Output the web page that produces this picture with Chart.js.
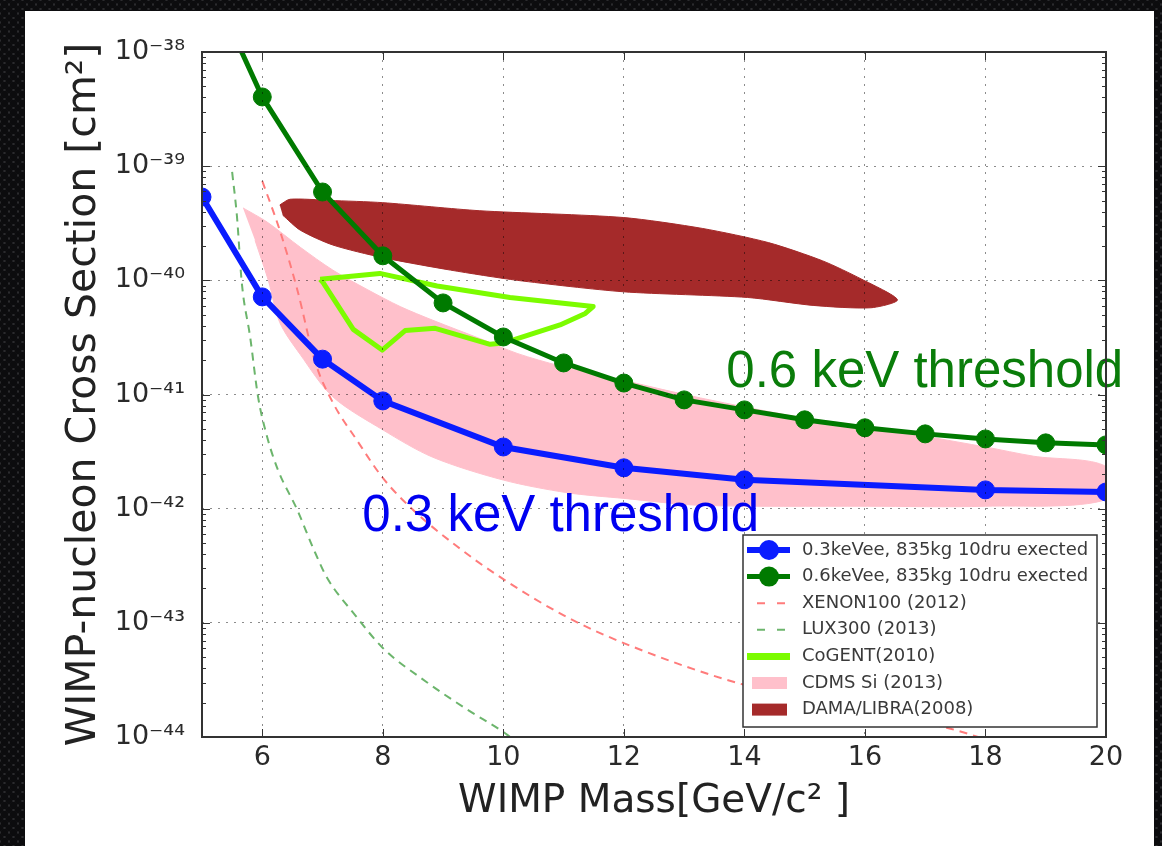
<!DOCTYPE html>
<html>
<head>
<meta charset="utf-8">
<script src="https://cdn.jsdelivr.net/npm/chart.js@4.4.1/dist/chart.umd.min.js"></script>
<style>
html, body { margin: 0; padding: 0; }
body {
    width: 1162px; height: 846px; overflow: hidden; position: relative;
    background-color: #3a3a3e;
    background-image: radial-gradient(circle, #0c0c0e 3.2px, rgba(0,0,0,0) 4.2px),
                      radial-gradient(circle, #0c0c0e 3.2px, rgba(0,0,0,0) 4.2px);
    background-size: 9px 9px;
    background-position: 0 0, 4.5px 4.5px;
}
#panel { position: absolute; left: 25px; top: 11px; width: 1129px; height: 835px; background: #fff; }
#c { position: absolute; left: 0; top: 0; }
</style>
</head>
<body>
<div id="panel"></div>
<canvas id="c" width="1162" height="846"></canvas>
<script>
// axis ticks
const xTicks = [6, 8, 10, 12, 14, 16, 18, 20];
const yTickValues = [1e-44, 1e-43, 1e-42, 1e-41, 1e-40, 1e-39, 1e-38];
const yTickLabels = ['10⁻⁴⁴', '10⁻⁴³', '10⁻⁴²', '10⁻⁴¹', '10⁻⁴⁰', '10⁻³⁹', '10⁻³⁸'];

// 0.3 keVee expected sensitivity
const massBlue  = [5, 6, 7, 8, 10, 12, 14, 18, 20];
const sigmaBlue = [5.37e-40, 7.16e-41, 2.04e-41, 8.79e-42, 3.47e-42, 2.28e-42, 1.79e-42, 1.46e-42, 1.40e-42];

// 0.6 keVee expected sensitivity
const massGreen  = [5, 6, 7, 8, 9, 10, 11, 12, 13, 14, 15, 16, 17, 18, 19, 20];
const sigmaGreen = [5.75e-38, 4.04e-39, 5.94e-40, 1.64e-40, 6.34e-41, 3.19e-41, 1.89e-41, 1.26e-41,
                    8.97e-42, 7.33e-42, 6.00e-42, 5.11e-42, 4.52e-42, 4.08e-42, 3.77e-42, 3.62e-42];

// XENON100 (2012)
const massXenon  = [6.0, 6.29, 6.58, 6.88, 7.17, 7.57, 8.0, 8.5, 9.23, 9.95, 11.06, 12.15, 13.98, 16.0, 17.37, 18.3];
const sigmaXenon = [7.41e-40, 2.75e-40, 8.32e-41, 1.91e-41, 8.51e-42, 3.98e-42, 1.86e-42, 9.77e-43,
                    4.68e-43, 2.51e-43, 1.12e-43, 6.17e-44, 2.88e-44, 1.70e-44, 1.20e-44, 8.5e-45];

// LUX300 (2013)
const massLux  = [5.50, 5.58, 5.66, 5.80, 5.93, 6.08, 6.26, 6.58, 6.84, 7.07, 7.54, 8.0, 8.73, 9.40, 10.06, 10.3];
const sigmaLux = [8.91e-40, 3.63e-40, 9.55e-41, 3.16e-41, 9.55e-42, 4.27e-42, 2.19e-42, 9.77e-43,
                  4.57e-43, 2.51e-43, 1.17e-43, 6.03e-44, 3.02e-44, 1.74e-44, 1.05e-44, 8.3e-45];

// CoGENT (2010) contour
const massCogent  = [6.96, 7.95, 8.90, 10.11, 11.49, 11.36, 10.94, 10.0, 9.78, 8.87, 8.37, 7.99, 7.51, 7.01, 6.96];
const sigmaCogent = [1.02e-40, 1.15e-40, 8.91e-41, 7.08e-41, 5.89e-41, 5.13e-41, 4.07e-41, 2.82e-41,
                     2.75e-41, 3.80e-41, 3.63e-41, 2.45e-41, 3.72e-41, 9.55e-41, 1.02e-40];

// CDMS Si (2013) region outline
const massCdms  = [5.68, 6.08, 6.63, 7.17, 7.74, 8.29, 8.83, 9.66, 10.23, 10.94, 11.94, 13.27, 14.93, 16.04, 18.0, 18.8, 20.0,
                   20.0, 18.0, 16.04, 13.27, 12.0, 11.06, 10.0, 8.83, 8.0, 7.17, 6.63, 6.29, 6.10, 5.88];
const sigmaCdms = [4.31e-40, 3.24e-40, 1.95e-40, 1.23e-40, 8.32e-41, 5.89e-41, 4.47e-41, 3.02e-41, 2.29e-41, 1.78e-41,
                   1.35e-41, 9.33e-42, 6.31e-42, 5.25e-42, 3.47e-42, 2.88e-42, 2.34e-42,
                   1.20e-42, 1.05e-42, 1.05e-42, 1.07e-42, 1.23e-42, 1.38e-42, 1.78e-42, 2.82e-42, 4.90e-42,
                   9.55e-42, 2.24e-41, 4.27e-41, 1.0e-40, 2.24e-40];

// DAMA/LIBRA (2008) region outline
const massDama  = [6.29, 6.46, 7.12, 8.0, 9.61, 11.99, 13.3, 14.4, 15.3, 15.95, 16.54,
                   16.1, 15.14, 14.05, 11.99, 10.23, 9.12, 8.0, 7.17, 6.63, 6.34];
const sigmaDama = [4.57e-40, 5.13e-40, 5.01e-40, 4.79e-40, 4.07e-40, 3.55e-40, 2.85e-40, 2.14e-40, 1.48e-40, 1.02e-40, 6.76e-41,
                   5.75e-41, 6.03e-41, 7.08e-41, 7.94e-41, 1.0e-40, 1.23e-40, 1.58e-40, 2.04e-40, 2.75e-40, 3.72e-40];

// text put on the plot, in data coordinates
const notes = [
    {text: '0.6 keV threshold', x: 13.7, y: 1.16e-41, color: '#0a7d0a'},
    {text: '0.3 keV threshold', x: 7.66, y: 6.38e-43, color: '#0000f0'}
];

const FONT = "'DejaVu Sans', sans-serif";

function pts(xs, ys) {
    return xs.map(function (v, i) { return {x: v, y: ys[i]}; });
}

// frame, inside ticks, notes and the boxed legend
const decorations = {
    id: 'decorations',
    afterDraw(chart) {
        const ctx = chart.ctx;
        const a = chart.chartArea;
        const xs = chart.scales.x, ys = chart.scales.y;

        ctx.save();
        ctx.font = "51px 'Liberation Sans', Arial, sans-serif";
        ctx.textBaseline = 'alphabetic';
        ctx.textAlign = 'left';
        notes.forEach(function (n) {
            ctx.fillStyle = n.color;
            ctx.fillText(n.text, xs.getPixelForValue(n.x), ys.getPixelForValue(n.y));
        });
        ctx.restore();

        ctx.save();
        ctx.strokeStyle = '#333';
        ctx.lineWidth = 1;
        function seg(x1, y1, x2, y2) {
            ctx.beginPath(); ctx.moveTo(x1, y1); ctx.lineTo(x2, y2); ctx.stroke();
        }
        xTicks.forEach(function (v) {
            const p = Math.round(xs.getPixelForValue(v)) + 0.5;
            seg(p, a.bottom, p, a.bottom - 8);
            seg(p, a.top, p, a.top + 8);
        });
        for (let e = -44; e < -38; e++) {
            for (let m = 1; m < 10; m++) {
                const p = Math.round(ys.getPixelForValue(m * Math.pow(10, e))) + 0.5;
                const len = m === 1 ? 8 : 4;
                seg(a.left, p, a.left + len, p);
                seg(a.right, p, a.right - len, p);
            }
        }
        ctx.lineWidth = 2;
        ctx.strokeRect(a.left, a.top, a.right - a.left, a.bottom - a.top);
        ctx.restore();

        // legend
        const bx = a.right - 363, by = a.bottom - 202, bw = 354, bh = 192;
        ctx.save();
        ctx.fillStyle = '#fff';
        ctx.fillRect(bx, by, bw, bh);
        ctx.strokeStyle = '#333';
        ctx.lineWidth = 1.5;
        ctx.strokeRect(bx, by, bw, bh);
        ctx.font = '18px ' + FONT;
        ctx.textBaseline = 'middle';
        chart.data.datasets.forEach(function (ds, i) {
            const cy = by + 15 + i * 26.6;
            ctx.save();
            if (ds.pointRadius > 0) {
                ctx.strokeStyle = ds.borderColor;
                ctx.lineWidth = ds.borderWidth;
                seg(bx + 4, cy, bx + 47, cy);
                ctx.fillStyle = ds.pointBackgroundColor;
                ctx.beginPath(); ctx.arc(bx + 26, cy, 10, 0, Math.PI * 2); ctx.fill();
            } else if (ds.borderDash) {
                ctx.strokeStyle = ds.borderColor;
                ctx.lineWidth = ds.borderWidth;
                ctx.setLineDash([8, 12]);
                seg(bx + 14, cy, bx + 42, cy);
            } else if (ds.fill) {
                ctx.fillStyle = ds.backgroundColor;
                ctx.fillRect(bx + 9, cy - 6, 35, 12);
            } else {
                ctx.strokeStyle = ds.borderColor;
                ctx.lineWidth = 7;
                seg(bx + 4, cy, bx + 47, cy);
            }
            ctx.restore();
            ctx.fillStyle = '#3a3a3a';
            ctx.fillText(ds.label, bx + 59, cy);
        });
        ctx.restore();
    }
};

new Chart(document.getElementById('c'), {
    type: 'line',
    data: {
        datasets: [
            {
                label: '0.3keVee, 835kg 10dru exected',
                data: pts(massBlue, sigmaBlue),
                borderColor: '#0a1cff', backgroundColor: '#0a1cff',
                borderWidth: 6, pointRadius: 9,
                pointBackgroundColor: '#0a1cff', pointBorderColor: '#0a1cff', pointBorderWidth: 1,
                tension: 0, clip: 0
            },
            {
                label: '0.6keVee, 835kg 10dru exected',
                data: pts(massGreen, sigmaGreen),
                borderColor: '#007a00', backgroundColor: '#007a00',
                borderWidth: 5, pointRadius: 9,
                pointBackgroundColor: '#007a00', pointBorderColor: '#007a00', pointBorderWidth: 1,
                tension: 0, clip: 0
            },
            {
                label: 'XENON100 (2012)',
                data: pts(massXenon, sigmaXenon),
                borderColor: '#ff7b7b', borderWidth: 2, borderDash: [8, 6],
                pointRadius: 0, cubicInterpolationMode: 'monotone', clip: 0
            },
            {
                label: 'LUX300 (2013)',
                data: pts(massLux, sigmaLux),
                borderColor: '#6cb56c', borderWidth: 2, borderDash: [8, 6],
                pointRadius: 0, cubicInterpolationMode: 'monotone', clip: 0
            },
            {
                label: 'CoGENT(2010)',
                data: pts(massCogent, sigmaCogent),
                borderColor: '#7cfc00', borderWidth: 5, borderJoinStyle: 'round',
                pointRadius: 0, tension: 0, fill: false, clip: 0
            },
            {
                label: 'CDMS Si (2013)',
                data: pts(massCdms, sigmaCdms),
                borderColor: '#ffc0cb', backgroundColor: '#ffc0cb', borderWidth: 1,
                pointRadius: 0, tension: 0.3, fill: 'shape', clip: 0
            },
            {
                label: 'DAMA/LIBRA(2008)',
                data: pts(massDama, sigmaDama),
                borderColor: '#a52a2a', backgroundColor: '#a52a2a', borderWidth: 1,
                pointRadius: 0, tension: 0.25, fill: 'shape', clip: 0
            }
        ]
    },
    options: {
        responsive: false,
        animation: false,
        devicePixelRatio: 1,
        layout: {padding: {top: 52, right: 56, bottom: 0, left: 0}},
        plugins: {legend: {display: false}, tooltip: {enabled: false}},
        scales: {
            x: {
                type: 'linear', min: 5, max: 20,
                afterBuildTicks: function (s) { s.ticks = xTicks.map(function (v) { return {value: v}; }); },
                afterFit: function (s) { s.height = 109; },
                grid: {z: 1, color: 'rgba(0,0,0,0.45)', lineWidth: 1, drawTicks: false},
                border: {display: false, dash: [2, 6]},
                ticks: {font: {family: FONT, size: 27}, color: '#2a2a2a', padding: 5, maxRotation: 0},
                title: {
                    display: true, text: 'WIMP Mass[GeV/c² ]',
                    font: {family: FONT, size: 39}, color: '#222', padding: {top: 0, bottom: 21}
                }
            },
            y: {
                type: 'logarithmic', min: 1e-44, max: 1e-38,
                afterBuildTicks: function (s) { s.ticks = yTickValues.map(function (v) { return {value: v}; }); },
                afterFit: function (s) { s.width = 202; },
                grid: {z: 1, color: 'rgba(0,0,0,0.45)', lineWidth: 1, drawTicks: false},
                border: {display: false, dash: [2, 6]},
                ticks: {
                    font: {family: FONT, size: 27}, color: '#2a2a2a', padding: 17,
                    callback: function (v, i) { return yTickLabels[i]; }
                },
                title: {
                    display: true, text: 'WIMP-nucleon Cross Section [cm²]',
                    font: {family: FONT, size: 41}, color: '#222', padding: {top: 60, bottom: 0}
                }
            }
        }
    },
    plugins: [decorations]
});
</script>
</body>
</html>
